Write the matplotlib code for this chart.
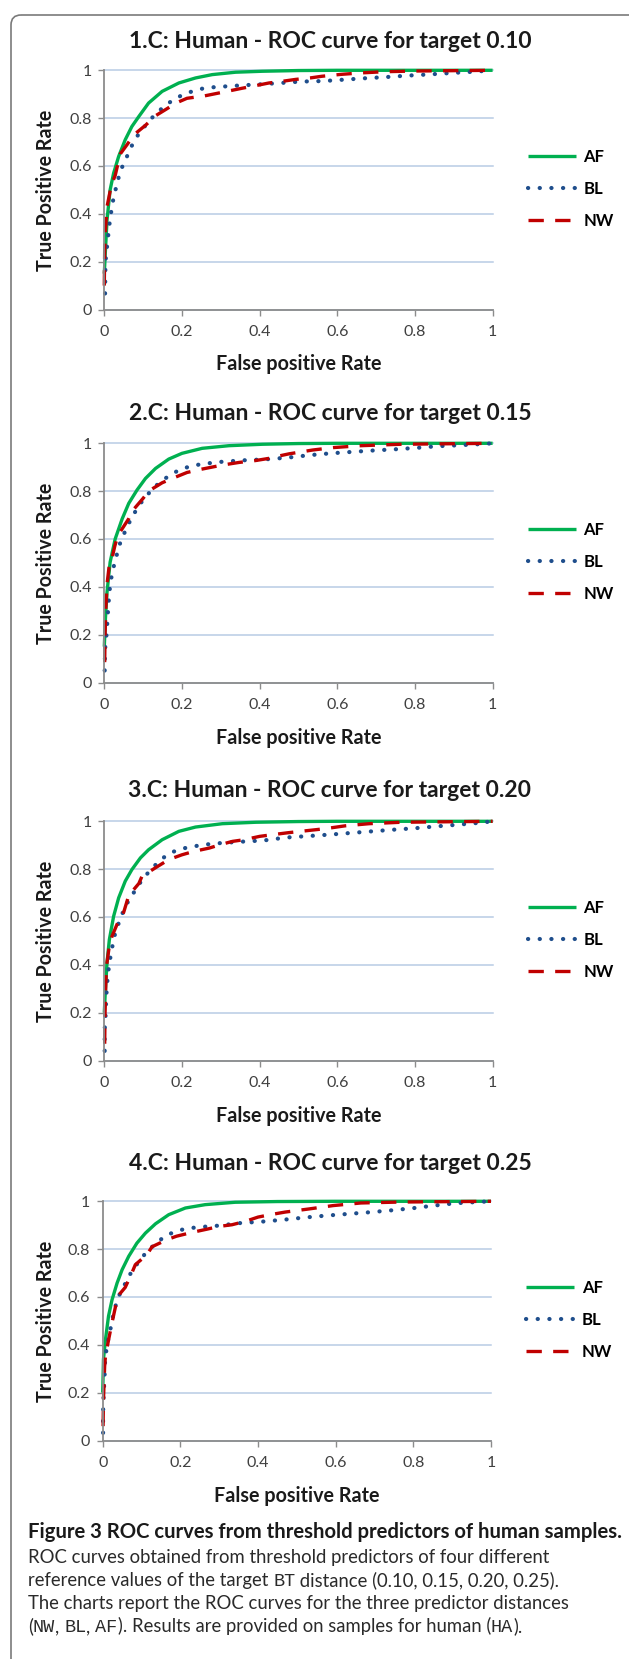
import matplotlib
matplotlib.use("Agg")
import matplotlib.pyplot as plt
from matplotlib.patches import FancyBboxPatch
from matplotlib.ticker import FixedLocator, FixedFormatter

# ---------------- data ----------------
TITLES = ["1.C: Human - ROC curve for target 0.10",
          "2.C: Human - ROC curve for target 0.15",
          "3.C: Human - ROC curve for target 0.20",
          "4.C: Human - ROC curve for target 0.25"]
SERIES = ["AF", "BL", "NW"]
TICKS = [0, 0.2, 0.4, 0.6, 0.8, 1.0]
TICK_LABELS = ["0", "0.2", "0.4", "0.6", "0.8", "1"]

P1_AF_FPR = [0, 0.003, 0.007, 0.015, 0.024, 0.037, 0.054, 0.071, 0.089, 0.114, 0.149, 0.192, 0.235, 0.278, 0.338, 0.407, 0.5, 0.6, 1.0]
P1_AF_TPR = [0.15, 0.25, 0.374, 0.5, 0.57, 0.64, 0.71, 0.765, 0.807, 0.863, 0.912, 0.947, 0.968, 0.982, 0.992, 0.996, 0.999, 1.0, 1.0]
P1_BL_FPR = [0.002, 0.003, 0.006, 0.009, 0.015, 0.024, 0.031, 0.038, 0.047, 0.059, 0.07, 0.083, 0.1, 0.117, 0.137, 0.157, 0.181, 0.205, 0.232, 0.259, 0.287, 0.343, 0.398, 0.454, 0.508, 0.563, 0.618, 0.674, 0.728, 0.783, 0.839, 0.896, 0.952, 1.0]
P1_BL_TPR = [0.067, 0.2, 0.246, 0.293, 0.381, 0.469, 0.514, 0.559, 0.6, 0.642, 0.682, 0.721, 0.757, 0.792, 0.824, 0.853, 0.88, 0.9, 0.915, 0.926, 0.93, 0.936, 0.941, 0.947, 0.953, 0.955, 0.961, 0.967, 0.972, 0.978, 0.983, 0.989, 0.994, 1.0]
P1_NW_FPR = [0, 0.001, 0.003, 0.007, 0.012, 0.018, 0.028, 0.041, 0.059, 0.076, 0.106, 0.132, 0.162, 0.183, 0.213, 0.258, 0.31, 0.355, 0.39, 0.424, 0.454, 0.493, 0.53, 0.56, 0.61, 0.66, 0.72, 0.8, 1.0]
P1_NW_TPR = [0.1, 0.25, 0.33, 0.43, 0.47, 0.52, 0.56, 0.65, 0.69, 0.73, 0.77, 0.81, 0.84, 0.862, 0.883, 0.893, 0.91, 0.925, 0.936, 0.947, 0.953, 0.962, 0.968, 0.975, 0.983, 0.989, 0.994, 0.997, 1.0]

P2_AF_FPR = [0, 0.003, 0.007, 0.015, 0.028, 0.046, 0.063, 0.084, 0.106, 0.132, 0.166, 0.2, 0.252, 0.321, 0.407, 0.5, 0.6, 1.0]
P2_AF_TPR = [0.15, 0.27, 0.377, 0.503, 0.6, 0.684, 0.749, 0.804, 0.853, 0.895, 0.934, 0.958, 0.979, 0.99, 0.996, 0.999, 1.0, 1.0]
P2_BL_FPR = [0.001, 0.002, 0.005, 0.007, 0.009, 0.01, 0.013, 0.015, 0.02, 0.026, 0.033, 0.041, 0.052, 0.063, 0.076, 0.09, 0.108, 0.127, 0.149, 0.172, 0.196, 0.222, 0.25, 0.276, 0.304, 0.36, 0.416, 0.472, 0.526, 0.582, 0.637, 0.693, 0.749, 0.805, 0.86, 0.916, 0.972, 1.0]
P2_BL_TPR = [0.05, 0.14, 0.186, 0.232, 0.276, 0.32, 0.365, 0.41, 0.454, 0.497, 0.539, 0.584, 0.626, 0.665, 0.704, 0.742, 0.779, 0.814, 0.844, 0.87, 0.891, 0.904, 0.913, 0.918, 0.923, 0.929, 0.933, 0.94, 0.95, 0.958, 0.964, 0.97, 0.975, 0.981, 0.988, 0.992, 0.997, 1.0]
P2_NW_FPR = [0.001, 0.002, 0.004, 0.007, 0.012, 0.02, 0.027, 0.035, 0.063, 0.071, 0.1, 0.114, 0.149, 0.175, 0.213, 0.248, 0.304, 0.347, 0.39, 0.424, 0.441, 0.476, 0.537, 0.589, 0.661, 0.764, 1.0]
P2_NW_TPR = [0.085, 0.2, 0.31, 0.41, 0.48, 0.52, 0.57, 0.615, 0.685, 0.715, 0.77, 0.8, 0.835, 0.853, 0.878, 0.891, 0.909, 0.92, 0.928, 0.937, 0.944, 0.956, 0.972, 0.982, 0.99, 0.996, 1.0]

P3_AF_FPR = [0, 0.003, 0.007, 0.013, 0.024, 0.037, 0.054, 0.071, 0.093, 0.114, 0.149, 0.192, 0.235, 0.304, 0.39, 0.5, 0.6, 1.0]
P3_AF_TPR = [0.2, 0.3, 0.41, 0.505, 0.603, 0.68, 0.75, 0.798, 0.847, 0.881, 0.923, 0.958, 0.976, 0.99, 0.996, 0.999, 1.0, 1.0]
P3_BL_FPR = [0.001, 0.001, 0.003, 0.004, 0.005, 0.007, 0.009, 0.013, 0.017, 0.022, 0.028, 0.037, 0.047, 0.059, 0.074, 0.089, 0.106, 0.123, 0.143, 0.164, 0.19, 0.218, 0.245, 0.272, 0.3, 0.355, 0.411, 0.467, 0.522, 0.577, 0.633, 0.689, 0.745, 0.8, 0.857, 0.912, 0.968, 1.0]
P3_BL_TPR = [0.04, 0.13, 0.176, 0.22, 0.267, 0.311, 0.357, 0.403, 0.445, 0.487, 0.532, 0.574, 0.616, 0.658, 0.697, 0.736, 0.772, 0.804, 0.835, 0.863, 0.881, 0.892, 0.899, 0.905, 0.909, 0.915, 0.92, 0.932, 0.938, 0.944, 0.951, 0.958, 0.965, 0.971, 0.979, 0.986, 0.994, 1.0]
P3_NW_FPR = [0.001, 0.002, 0.004, 0.007, 0.013, 0.02, 0.033, 0.05, 0.063, 0.089, 0.097, 0.136, 0.166, 0.2, 0.23, 0.27, 0.3, 0.33, 0.36, 0.4, 0.433, 0.472, 0.517, 0.568, 0.62, 0.682, 0.764, 1.0]
P3_NW_TPR = [0.07, 0.2, 0.33, 0.41, 0.48, 0.52, 0.57, 0.62, 0.69, 0.74, 0.77, 0.81, 0.84, 0.86, 0.874, 0.888, 0.903, 0.916, 0.923, 0.937, 0.944, 0.952, 0.96, 0.969, 0.981, 0.99, 0.996, 1.0]

P4_AF_FPR = [0, 0.002, 0.007, 0.015, 0.024, 0.037, 0.05, 0.067, 0.088, 0.11, 0.136, 0.17, 0.213, 0.264, 0.341, 0.45, 0.6, 1.0]
P4_AF_TPR = [0.2, 0.34, 0.42, 0.52, 0.588, 0.658, 0.714, 0.77, 0.825, 0.867, 0.906, 0.944, 0.972, 0.986, 0.996, 0.999, 1.0, 1.0]
P4_BL_FPR = [0.001, 0.001, 0.002, 0.003, 0.005, 0.005, 0.007, 0.011, 0.016, 0.022, 0.027, 0.034, 0.043, 0.057, 0.069, 0.084, 0.101, 0.12, 0.141, 0.161, 0.187, 0.214, 0.243, 0.27, 0.297, 0.354, 0.41, 0.466, 0.519, 0.574, 0.63, 0.686, 0.742, 0.798, 0.853, 0.909, 0.965, 1.0]
P4_BL_TPR = [0.032, 0.12, 0.166, 0.214, 0.26, 0.306, 0.35, 0.395, 0.438, 0.481, 0.525, 0.568, 0.609, 0.653, 0.691, 0.728, 0.765, 0.8, 0.828, 0.856, 0.873, 0.886, 0.891, 0.895, 0.898, 0.909, 0.915, 0.923, 0.932, 0.94, 0.947, 0.954, 0.962, 0.971, 0.982, 0.992, 0.997, 1.0]
P4_NW_FPR = [0.001, 0.002, 0.005, 0.007, 0.015, 0.025, 0.033, 0.045, 0.058, 0.075, 0.084, 0.114, 0.127, 0.166, 0.19, 0.23, 0.27, 0.3, 0.333, 0.367, 0.4, 0.431, 0.47, 0.531, 0.593, 0.665, 0.769, 1.0]
P4_NW_TPR = [0.06, 0.17, 0.31, 0.35, 0.42, 0.5, 0.56, 0.615, 0.64, 0.70, 0.735, 0.777, 0.81, 0.84, 0.854, 0.87, 0.884, 0.895, 0.902, 0.916, 0.934, 0.944, 0.955, 0.968, 0.982, 0.993, 0.997, 1.0]

PANELS = [
    [(P1_AF_FPR, P1_AF_TPR), (P1_BL_FPR, P1_BL_TPR), (P1_NW_FPR, P1_NW_TPR)],
    [(P2_AF_FPR, P2_AF_TPR), (P2_BL_FPR, P2_BL_TPR), (P2_NW_FPR, P2_NW_TPR)],
    [(P3_AF_FPR, P3_AF_TPR), (P3_BL_FPR, P3_BL_TPR), (P3_NW_FPR, P3_NW_TPR)],
    [(P4_AF_FPR, P4_AF_TPR), (P4_BL_FPR, P4_BL_TPR), (P4_NW_FPR, P4_NW_TPR)],
]

CAPTION_BOLD = "Figure 3 ROC curves from threshold predictors of human samples."
CAPTION_LINES = [
    [("ROC curves obtained from threshold predictors of four different", "s")],
    [("reference values of the target ", "s"), ("BT", "m"), (" distance (0.10, 0.15, 0.20, 0.25).", "s")],
    [("The charts report the ROC curves for the three predictor distances", "s")],
    [("(", "s"), ("NW", "m"), (", ", "s"), ("BL", "m"), (", ", "s"), ("AF", "m"),
     ("). Results are provided on samples for human (", "s"), ("HA", "m"), (").", "s")],
]

# ---------------- layout (pixels) ----------------
W, H = 629, 1659
AX_LEFT = [104.3, 104.3, 104.3, 102.7]
AX_WIDTH = 388.3
AX_TOP = [70.3, 443.3, 821.3, 1201.3]
AX_HEIGHT = 239.2
TITLE_Y = [42, 414, 791, 1164]
TITLE_X = 330
COLORS = {"AF": "#00B050", "BL": "#1F4E8C", "NW": "#C00000"}
STYLES = {
    "AF": dict(linestyle="-", linewidth=2.4),
    "BL": dict(linestyle=(0, (0.05, 2.75)), linewidth=3.0, dash_capstyle="round"),
    "NW": dict(linestyle=(0, (4.6, 3.4)), linewidth=2.4, dash_capstyle="butt"),
}
FONT = "Lato"
GRID = "#B8CCE4"
AXCOL = "#8C8C8C"

plt.rcParams["font.family"] = [FONT, "DejaVu Sans"]

fig = plt.figure(figsize=(W / 100, H / 100), dpi=100)
renderer = fig.canvas.get_renderer()

def fx(x):
    return x / W

def fy(y):
    return 1 - y / H

def fit(t, target, use_height=False):
    bb = t.get_window_extent(renderer)
    cur = bb.height if use_height else bb.width
    t.set_fontsize(t.get_fontsize() * target / cur)

# background frame
bg = fig.add_axes([0, 0, 1, 1], zorder=-5)
bg.set_xlim(0, W)
bg.set_ylim(H, 0)
bg.axis("off")
bg.add_patch(FancyBboxPatch((11, 15), 800, 2200,
                            boxstyle="round,pad=0,rounding_size=10",
                            fc="none", ec="#7a7a7a", lw=1.2))

for i in range(4):
    l, t0 = AX_LEFT[i], AX_TOP[i]
    ax = fig.add_axes([fx(l), fy(t0 + AX_HEIGHT), AX_WIDTH / W, AX_HEIGHT / H])
    handles = []
    for name, (xs, ys) in zip(SERIES, PANELS[i]):
        ln, = ax.plot(xs, ys, color=COLORS[name], clip_on=False, label=name,
                      solid_capstyle="butt", **STYLES[name])
        handles.append(ln)
    ax.set_xlim(0, 1)
    ax.set_ylim(0, 1)
    for s in ["top", "right"]:
        ax.spines[s].set_visible(False)
    for s in ["left", "bottom"]:
        ax.spines[s].set_color(AXCOL)
        ax.spines[s].set_linewidth(1.3)
    ax.xaxis.set_major_locator(FixedLocator(TICKS))
    ax.xaxis.set_major_formatter(FixedFormatter(TICK_LABELS))
    ax.yaxis.set_major_locator(FixedLocator(TICKS))
    ax.yaxis.set_major_formatter(FixedFormatter(TICK_LABELS))
    ax.tick_params(axis="both", direction="out", length=4.5, width=1.0,
                   color=AXCOL, labelsize=11.5, labelcolor="#404040")
    ax.tick_params(axis="x", pad=6.5)
    ax.tick_params(axis="y", pad=4.5)
    ax.yaxis.grid(True, color=GRID, linewidth=1.1)
    ax.set_axisbelow(True)
    for gl in ax.yaxis.get_gridlines():
        gl.set_clip_on(False)
    ax.legend(handles=handles, loc="center left", bbox_to_anchor=(1.09, 0.505),
              frameon=False, handlelength=2.9, handletextpad=0.45,
              labelspacing=0.95, borderpad=0, borderaxespad=0,
              prop=dict(family=FONT, weight="bold", size=12))
    tt = fig.text(fx(TITLE_X), fy(TITLE_Y[i]), TITLES[i], ha="center", va="center",
                  fontsize=16, fontweight="bold", color="#1a1a1a")
    fit(tt, 403)
    xl = fig.text(fx(l + AX_WIDTH / 2), fy(t0 + AX_HEIGHT + 55), "False positive Rate",
                  ha="center", va="center", fontsize=11, fontweight="bold", color="#1a1a1a")
    fit(xl, 165)
    yl = fig.text(fx(46), fy(t0 + AX_HEIGHT / 2), "True Positive Rate", rotation=90,
                  ha="center", va="center", fontsize=11, fontweight="bold", color="#1a1a1a")
    fit(yl, 160, use_height=True)

# ---------------- caption ----------------
CAP_X = 28
CAP_BASE = [1538, 1563, 1586, 1609, 1632]
cb = fig.text(fx(CAP_X), fy(CAP_BASE[0]), CAPTION_BOLD, ha="left", va="baseline",
              fontsize=12, fontweight="bold", color="#1a1a1a")
fit(cb, 590)

probe = fig.text(0, 0, CAPTION_LINES[0][0][0], fontsize=12, family=FONT)
fit(probe, 521)
cap_size = probe.get_fontsize()
probe.remove()

def seg_width(txt, **kw):
    a = fig.text(0, 0, txt + "|", **kw)
    b = fig.text(0, 0, "|", **kw)
    w = a.get_window_extent(renderer).width - b.get_window_extent(renderer).width
    a.remove()
    b.remove()
    return w

for li, segs in enumerate(CAPTION_LINES):
    x = CAP_X
    for txt, kind in segs:
        if kind == "s":
            kw = dict(fontsize=cap_size, family=[FONT], color="#2a2a2a")
        else:
            kw = dict(fontsize=cap_size * 1.0, family=["Liberation Mono", "DejaVu Sans Mono"],
                      color="#2a2a2a")
        fig.text(fx(x), fy(CAP_BASE[li + 1]), txt, ha="left", va="baseline", **kw)
        x += seg_width(txt, **kw)

fig.savefig("out.png", dpi=100)
